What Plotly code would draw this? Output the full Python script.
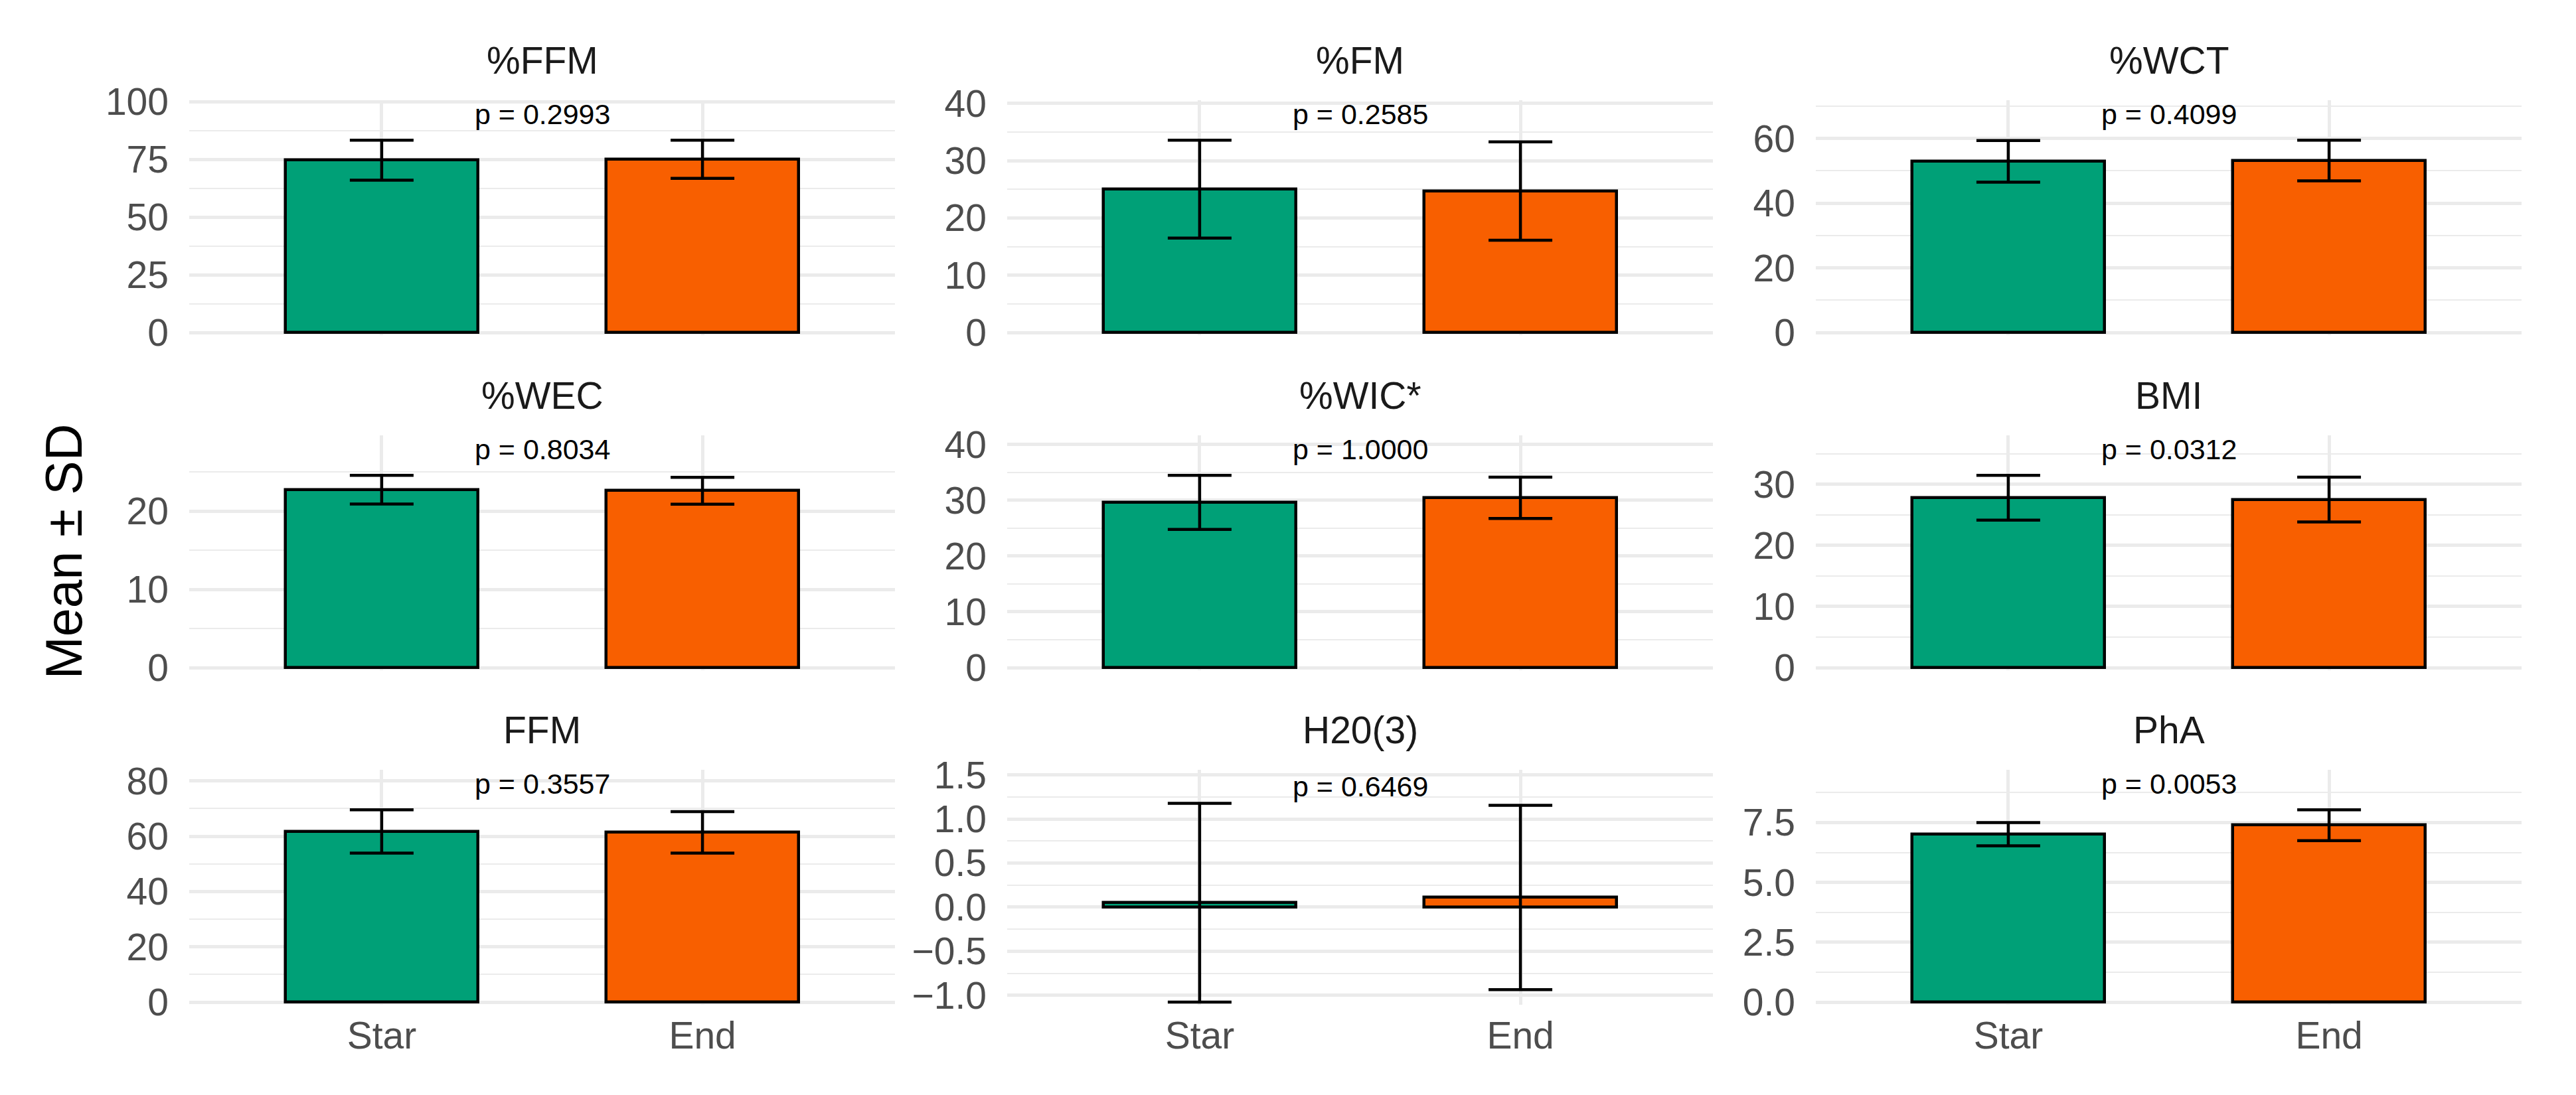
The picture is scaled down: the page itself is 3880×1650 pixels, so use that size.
import plotly.graph_objects as go

# ---------------- data ----------------
panels = ["%FFM", "%FM", "%WCT", "%WEC", "%WIC*", "BMI", "FFM", "H20(3)", "PhA"]
p_values = ["0.2993", "0.2585", "0.4099", "0.8034", "1.0000", "0.0312", "0.3557", "0.6469", "0.0053"]
groups = ["Star", "End"]
star_mean = [74.7, 25.05, 52.95, 22.74, 29.65, 27.81, 61.75, 0.05, 7.015]
star_sd = [8.7, 8.55, 6.45, 1.84, 4.85, 3.67, 7.85, 1.127, 0.485]
end_mean = [75.1, 24.7, 53.2, 22.6, 30.46, 27.5, 61.4, 0.11, 7.39]
end_sd = [8.3, 8.6, 6.3, 1.72, 3.7, 3.67, 7.5, 1.045, 0.645]
y_dtick = [25, 10, 20, 10, 10, 10, 20, 0.5, 2.5]
y_format = ["d", "d", "d", "d", "d", "d", "d", ".1f", ".1f"]

# ---------------- style / layout ----------------
colors = ["#00A077", "#F85F00"]
FONT = "Liberation Sans, Arial, sans-serif"
GRID = "#EBEBEB"
W, H = 3880, 1650
col_left = [277, 1509, 2727]
panel_w = 1063
row_top = [143, 648, 1152]
panel_h = 350
pad = 4  # px of room below the baseline so outlines are not clipped

fig = go.Figure()
annotations = []
layout = {}

for i in range(9):
    r, c = divmod(i, 3)
    n = i + 1
    xa = "x" if n == 1 else f"x{n}"
    ya = "y" if n == 1 else f"y{n}"
    xk = "xaxis" if n == 1 else f"xaxis{n}"
    yk = "yaxis" if n == 1 else f"yaxis{n}"

    upper = max(star_mean[i] + star_sd[i], end_mean[i] + end_sd[i])
    lower = min(star_mean[i] - star_sd[i], end_mean[i] - end_sd[i], 0)
    label_y = 1.15 * upper
    top = label_y + 0.05 * (label_y - lower)
    if lower < 0:  # panel with negative values has a slightly taller scale
        top = 1.558
        label_y = 1.40
    scale = panel_h / (top - lower)
    bottom = lower - pad / scale

    fig.add_trace(go.Bar(
        x=groups, y=[star_mean[i], end_mean[i]], width=0.6,
        marker=dict(color=colors, line=dict(color="black", width=4.5)),
        error_y=dict(type="data", array=[star_sd[i], end_sd[i]], color="black",
                     thickness=4.5, width=48),
        xaxis=xa, yaxis=ya, showlegend=False, hoverinfo="skip",
    ))

    l = col_left[c]
    t = row_top[r]
    layout[xk] = dict(
        domain=[l / W, (l + panel_w) / W], anchor=ya,
        type="category", categoryorder="array", categoryarray=groups,
        range=[-0.6, 1.6], showgrid=True, gridcolor=GRID, gridwidth=4.5,
        zeroline=False, showline=False, ticks="",
        showticklabels=(r == 2), tickfont=dict(family=FONT, size=57, color="#4D4D4D"),
        ticklabelstandoff=8, automargin=False, fixedrange=True,
    )
    layout[yk] = dict(
        domain=[1 - (t + panel_h + pad) / H, 1 - t / H], anchor=xa,
        range=[bottom, top], tick0=0, dtick=y_dtick[i], tickformat=y_format[i],
        showgrid=True, gridcolor=GRID, gridwidth=4.5,
        minor=dict(dtick=y_dtick[i] / 2, tick0=0, showgrid=True, gridcolor=GRID, gridwidth=2.3),
        zeroline=False, showline=False, ticks="",
        tickfont=dict(family=FONT, size=57, color="#4D4D4D"),
        ticklabelstandoff=30, automargin=False, fixedrange=True,
    )

    # facet strip title
    annotations.append(dict(
        text=panels[i], xref="paper", yref="paper",
        x=(l + panel_w / 2) / W, y=1 - (t - 60) / H,
        xanchor="center", yanchor="middle", showarrow=False,
        font=dict(family=FONT, size=57, color="#1A1A1A"),
    ))
    # p-value label
    annotations.append(dict(
        text=f"p = {p_values[i]}", xref=xa, yref=ya, x=0.5, y=label_y,
        xanchor="center", yanchor="middle", yshift=-4, showarrow=False,
        font=dict(family=FONT, size=43, color="black"),
    ))

# y axis title
annotations.append(dict(
    text="Mean ± SD", xref="paper", yref="paper", x=87.5 / W, y=1 - 822.8 / H,
    xanchor="center", yanchor="middle", textangle=-90, showarrow=False,
    font=dict(family=FONT, size=77, color="black"),
))

fig.update_layout(
    width=W, height=H, margin=dict(l=0, r=0, t=0, b=0, autoexpand=False),
    paper_bgcolor="white", plot_bgcolor="white",
    bargap=0, annotations=annotations, **layout,
)

fig.write_html("out.html")
